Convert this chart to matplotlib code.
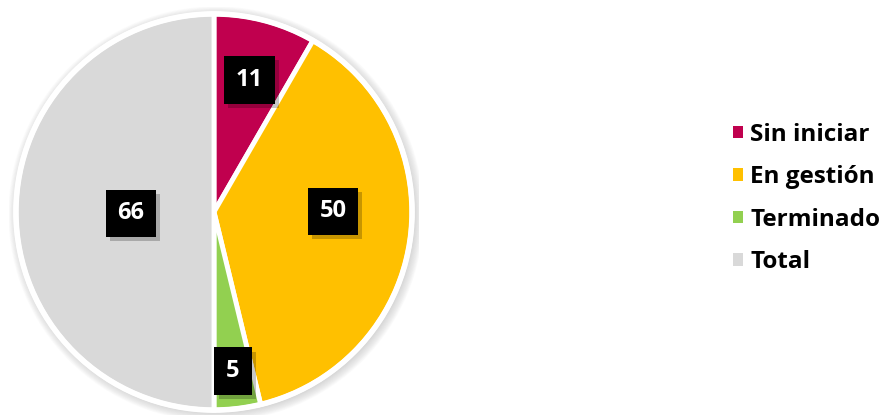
import numpy as np
import matplotlib.pyplot as plt
from matplotlib.patches import Circle
import matplotlib.patheffects as pe

categories = ["Sin iniciar", "En gestión", "Terminado", "Total"]
values = [11, 50, 5, 66]
colors = ["#C0004E", "#FFC000", "#92D050", "#D9D9D9"]

# label placement: fraction of radius and angle shift (deg) per slice
label_r = [0.69, 0.60, 0.81, 0.42]
label_shift = [0, 8.5, 0, 1]

fig = plt.figure(figsize=(8.85, 4.15), dpi=100)
ax = fig.add_axes([9 / 885, -2 / 415, 410 / 885, 410 / 415])

# soft shadow around the pie
for i in range(12):
    ax.add_patch(Circle((0.01, -0.01), 1.0 + 0.004 * (12 - i), color="#909090",
                        alpha=0.03, lw=0, zorder=0))

wedges, _ = ax.pie(values, colors=colors, startangle=90, counterclock=False,
                   radius=1.0, wedgeprops=dict(edgecolor="white", linewidth=3.5))
for w in wedges:
    w.set_zorder(2)
ax.add_patch(Circle((0, 0), 1.0, fill=False, edgecolor="white", lw=4, zorder=3))
ax.set_xlim(-1.035, 1.035)
ax.set_ylim(-1.035, 1.035)
ax.set_aspect("equal")
ax.axis("off")

for w, v, rf, sh in zip(wedges, values, label_r, label_shift):
    ang = np.deg2rad((w.theta1 + w.theta2) / 2 + sh)
    x, y = rf * np.cos(ang), rf * np.sin(ang)
    ax.text(x, y, str(v), color="white", fontsize=17, fontweight="bold",
            family="Open Sans", ha="center", va="center", zorder=5,
            bbox=dict(boxstyle="square,pad=0.5", fc="black", ec="none",
                      path_effects=[pe.SimplePatchShadow(offset=(3, -3), alpha=0.22),
                                    pe.Normal()]))

leg = fig.legend(wedges, categories, loc="center left", bbox_to_anchor=(733 / 885, 0.522),
                 frameon=False, borderpad=0, borderaxespad=0,
                 handlelength=0.4, handleheight=0.4, handletextpad=0.3,
                 labelspacing=0.76, prop=dict(family="Open Sans", weight="bold", size=17.5))
for h in leg.legend_handles:
    h.set_edgecolor("none")

fig.savefig("out.png", dpi=100)
